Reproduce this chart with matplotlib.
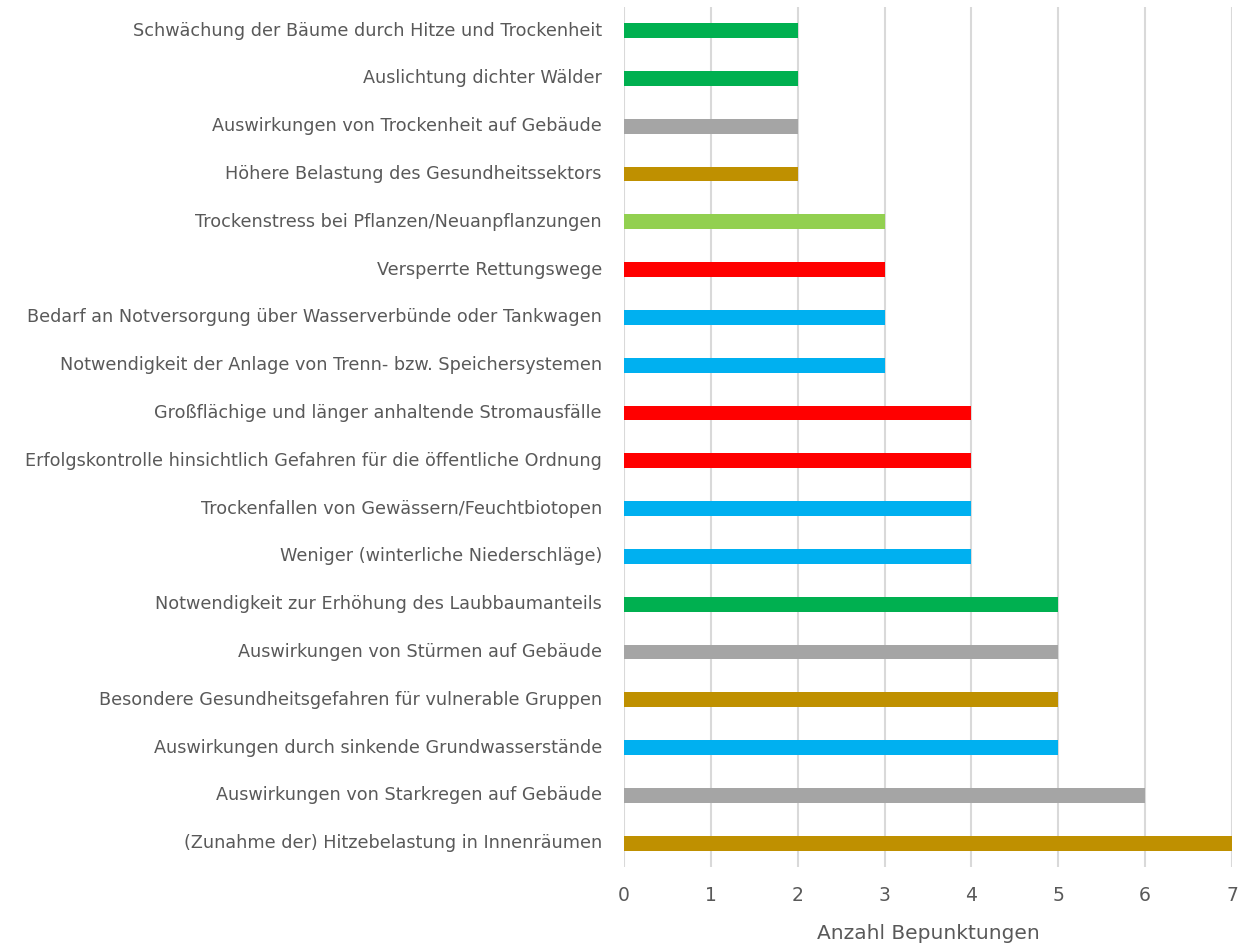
import matplotlib.pyplot as plt

# Kategorien von oben nach unten
categories = [
    "Schwächung der Bäume durch Hitze und Trockenheit",
    "Auslichtung dichter Wälder",
    "Auswirkungen von Trockenheit auf Gebäude",
    "Höhere Belastung des Gesundheitssektors",
    "Trockenstress bei Pflanzen/Neuanpflanzungen",
    "Versperrte Rettungswege",
    "Bedarf an Notversorgung über Wasserverbünde oder Tankwagen",
    "Notwendigkeit der Anlage von Trenn- bzw. Speichersystemen",
    "Großflächige und länger anhaltende Stromausfälle",
    "Erfolgskontrolle hinsichtlich Gefahren für die öffentliche Ordnung",
    "Trockenfallen von Gewässern/Feuchtbiotopen",
    "Weniger (winterliche Niederschläge)",
    "Notwendigkeit zur Erhöhung des Laubbaumanteils",
    "Auswirkungen von Stürmen auf Gebäude",
    "Besondere Gesundheitsgefahren für vulnerable Gruppen",
    "Auswirkungen durch sinkende Grundwasserstände",
    "Auswirkungen von Starkregen auf Gebäude",
    "(Zunahme der) Hitzebelastung in Innenräumen",
]
points = [2, 2, 2, 2, 3, 3, 3, 3, 4, 4, 4, 4, 5, 5, 5, 5, 6, 7]
sectors = ["wald", "wald", "bau", "gesundheit", "gruen", "sicherheit", "wasser", "wasser",
           "sicherheit", "sicherheit", "wasser", "wasser", "wald", "bau", "gesundheit",
           "wasser", "bau", "gesundheit"]
sector_colors = {
    "wald": "#00B050",
    "bau": "#A5A5A5",
    "gesundheit": "#BF9000",
    "gruen": "#92D050",
    "sicherheit": "#FF0000",
    "wasser": "#00B0F0",
}
x_ticks = [0, 1, 2, 3, 4, 5, 6, 7]
x_label = "Anzahl Bepunktungen"

plt.rcParams['font.family'] = ['DejaVu Sans']
text_color = "#595959"

fig = plt.figure(figsize=(12.46, 9.49), dpi=100)
ax = fig.add_axes([0.5008, 0.0864, 0.4880, 0.9066])

n = len(categories)
ypos = list(range(n - 1, -1, -1))
colors = [sector_colors[s] for s in sectors]
ax.barh(ypos, points, height=0.31, color=colors, zorder=3)

ax.set_xlim(0, 7)
ax.set_ylim(-0.5, n - 0.5)
ax.set_xticks(x_ticks)
ax.set_yticks(ypos)
ax.set_yticklabels(categories, va="center")
ax.xaxis.grid(True, color="#D9D9D9", linewidth=1.5, zorder=0)
for s in ax.spines.values():
    s.set_visible(False)
ax.tick_params(axis="both", length=0, colors=text_color)
ax.tick_params(axis="y", pad=16, labelsize=12.7)
ax.tick_params(axis="x", pad=14, labelsize=13.5)
ax.set_xlabel(x_label, color=text_color, fontsize=14.5, labelpad=13)

fig.savefig("out.png", dpi=100)
